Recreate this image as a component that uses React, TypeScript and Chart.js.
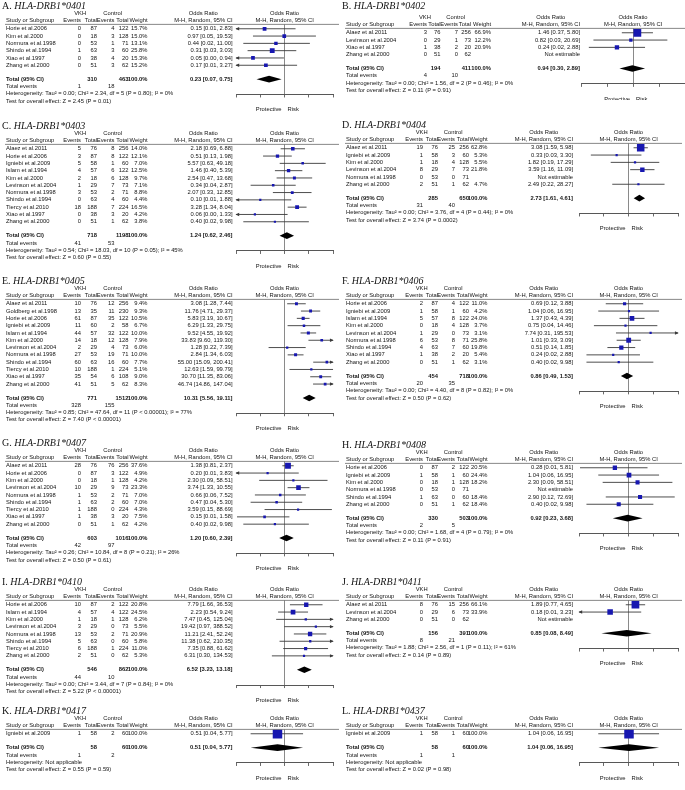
import React, { useEffect, useRef } from 'react';
import { Chart, registerables } from 'chart.js';

Chart.register(...registerables);

const SANS = '"Liberation Sans", Arial, Helvetica, sans-serif';
const SERIF = '"Liberation Serif", "Times New Roman", serif';

const TICK_VALUES = [0.01, 0.1, 1, 10, 100];
const TICK_LABELS = ['0.01', '0.1', '1', '10', '100'];

// ---------- A. HLA-DRB1*0401 ----------
const A_names = ['Horie et al.2006', 'Kim et al.2000', 'Normura et al.1998', 'Shindo et al.1994', 'Xiao et al.1997', 'Zhang et al.2000'];
const A_vkhEvents = [0, 0, 0, 1, 0, 0];
const A_vkhTotal = [87, 18, 53, 63, 38, 51];
const A_ctlEvents = [4, 3, 1, 3, 4, 3];
const A_ctlTotal = [122, 128, 71, 60, 20, 62];
const A_weight = [15.7, 15.0, 13.1, 25.8, 15.3, 15.2];
const A_or = [0.15, 0.97, 0.44, 0.31, 0.05, 0.17];
const A_lo = [0.006, 0.05, 0.02, 0.03, 0.002, 0.006];
const A_hi = [2.83, 19.53, 11.0, 3.03, 0.94, 3.27];
const A_totalN = [310, 463];
const A_totalOR = [0.23, 0.07, 0.75];
const A_events = [1, 18];
const A_stats = ['Heterogeneity: Tau² = 0.00; Chi² = 2.34, df = 5 (P = 0.80); I² = 0%', 'Test for overall effect: Z = 2.45 (P = 0.01)'];

// ---------- B. HLA-DRB1*0402 ----------
const B_names = ['Alaez et al.2011', 'Levinson et al.2004', 'Xiao et al.1997', 'Zhang et al.2000'];
const B_vkhEvents = [3, 0, 1, 0];
const B_vkhTotal = [76, 29, 38, 51];
const B_ctlEvents = [7, 1, 2, 0];
const B_ctlTotal = [256, 73, 20, 62];
const B_weight = [66.9, 12.2, 20.9, null];
const B_or = [1.46, 0.82, 0.24, null];
const B_lo = [0.37, 0.03, 0.02, null];
const B_hi = [5.8, 20.69, 2.88, null];
const B_totalN = [194, 411];
const B_totalOR = [0.94, 0.3, 2.89];
const B_events = [4, 10];
const B_stats = ['Heterogeneity: Tau² = 0.00; Chi² = 1.56, df = 2 (P = 0.46); I² = 0%', 'Test for overall effect: Z = 0.11 (P = 0.91)'];

// ---------- C. HLA-DRB1*0403 ----------
const C_names = ['Alaez et al.2011', 'Horie et al.2006', 'Igniebi et al.2009', 'Islam et al.1994', 'Kim et al.2000', 'Levinson et al.2004', 'Normura et al.1998', 'Shindo et al.1994', 'Tiercy et al.2010', 'Xiao et al.1997', 'Zhang et al.2000'];
const C_vkhEvents = [5, 3, 5, 4, 2, 1, 3, 0, 18, 0, 0];
const C_vkhTotal = [76, 87, 58, 57, 18, 29, 53, 63, 188, 38, 51];
const C_ctlEvents = [8, 8, 1, 6, 6, 7, 2, 4, 7, 3, 1];
const C_ctlTotal = [256, 122, 60, 122, 128, 73, 71, 60, 224, 20, 62];
const C_weight = [14.0, 12.1, 7.0, 12.5, 9.7, 7.1, 8.8, 4.4, 16.5, 4.2, 3.8];
const C_or = [2.18, 0.51, 5.57, 1.46, 2.54, 0.34, 2.07, 0.1, 3.28, 0.06, 0.4];
const C_lo = [0.69, 0.13, 0.63, 0.4, 0.47, 0.04, 0.33, 0.006, 1.34, 0.002, 0.02];
const C_hi = [6.88, 1.98, 49.18, 5.39, 13.68, 2.87, 12.85, 1.88, 8.04, 1.33, 9.98];
const C_totalN = [718, 1198];
const C_totalOR = [1.24, 0.62, 2.46];
const C_events = [41, 53];
const C_stats = ['Heterogeneity: Tau² = 0.54; Chi² = 18.03, df = 10 (P = 0.05); I² = 45%', 'Test for overall effect: Z = 0.60 (P = 0.55)'];

// ---------- D. HLA-DRB1*0404 ----------
const D_names = ['Alaez et al.2011', 'Igniebi et al.2009', 'Kim et al.2000', 'Levinson et al.2004', 'Normura et al.1998', 'Zhang et al.2000'];
const D_vkhEvents = [19, 1, 1, 8, 0, 2];
const D_vkhTotal = [76, 58, 18, 29, 53, 51];
const D_ctlEvents = [25, 3, 4, 7, 0, 1];
const D_ctlTotal = [256, 60, 128, 73, 71, 62];
const D_weight = [62.8, 5.3, 5.5, 21.8, null, 4.7];
const D_or = [3.08, 0.33, 1.82, 3.59, null, 2.49];
const D_lo = [1.59, 0.03, 0.19, 1.16, null, 0.22];
const D_hi = [5.98, 3.3, 17.29, 11.09, null, 28.27];
const D_totalN = [285, 650];
const D_totalOR = [2.73, 1.61, 4.61];
const D_events = [31, 40];
const D_stats = ['Heterogeneity: Tau² = 0.00; Chi² = 3.76, df = 4 (P = 0.44); I² = 0%', 'Test for overall effect: Z = 3.74 (P = 0.0002)'];

// ---------- E. HLA-DRB1*0405 ----------
const E_names = ['Alaez et al.2011', 'Goldberg et al.1998', 'Horie et al.2006', 'Igniebi et al.2009', 'Islam et al.1994', 'Kim et al.2000', 'Levinson et al.2004', 'Normura et al.1998', 'Shindo et al.1994', 'Tiercy et al.2010', 'Xiao et al.1997', 'Zhang et al.2000'];
const E_vkhEvents = [10, 13, 61, 11, 44, 14, 2, 27, 60, 10, 35, 41];
const E_vkhTotal = [76, 35, 87, 60, 57, 18, 29, 53, 63, 188, 54, 51];
const E_ctlEvents = [12, 11, 35, 2, 32, 12, 4, 19, 16, 1, 6, 5];
const E_ctlTotal = [256, 230, 122, 58, 122, 128, 73, 71, 60, 224, 108, 62];
const E_weight = [9.4, 9.3, 10.5, 6.7, 10.0, 7.9, 6.0, 10.0, 7.7, 5.1, 9.0, 8.3];
const E_or = [3.08, 11.76, 5.83, 6.29, 9.52, 33.83, 1.28, 2.84, 55.0, 12.63, 30.7, 46.74];
const E_lo = [1.28, 4.71, 3.19, 1.33, 4.55, 9.6, 0.22, 1.34, 15.09, 1.59, 11.35, 14.86];
const E_hi = [7.44, 29.37, 10.67, 29.75, 19.92, 119.3, 7.39, 6.03, 200.41, 99.79, 83.06, 147.04];
const E_totalN = [771, 1512];
const E_totalOR = [10.31, 5.56, 19.11];
const E_events = [328, 155];
const E_stats = ['Heterogeneity: Tau² = 0.85; Chi² = 47.64, df = 11 (P < 0.00001); I² = 77%', 'Test for overall effect: Z = 7.40 (P < 0.00001)'];

// ---------- F. HLA-DRB1*0406 ----------
const F_names = ['Horie et al.2006', 'Igniebi et al.2009', 'Islam et al.1994', 'Kim et al.2000', 'Levinson et al.2004', 'Normura et al.1998', 'Shindo et al.1994', 'Xiao et al.1997', 'Zhang et al.2000'];
const F_vkhEvents = [2, 1, 5, 0, 1, 6, 4, 1, 0];
const F_vkhTotal = [87, 58, 57, 18, 29, 53, 63, 38, 51];
const F_ctlEvents = [4, 1, 8, 4, 0, 8, 7, 2, 1];
const F_ctlTotal = [122, 60, 122, 128, 73, 71, 60, 20, 62];
const F_weight = [11.0, 4.2, 24.0, 3.7, 3.1, 25.8, 19.8, 5.4, 3.1];
const F_or = [0.69, 1.04, 1.37, 0.75, 7.74, 1.01, 0.51, 0.24, 0.4];
const F_lo = [0.12, 0.06, 0.43, 0.04, 0.31, 0.33, 0.14, 0.02, 0.02];
const F_hi = [3.88, 16.95, 4.39, 14.46, 195.53, 3.09, 1.85, 2.88, 9.98];
const F_totalN = [454, 718];
const F_totalOR = [0.86, 0.49, 1.53];
const F_events = [20, 35];
const F_stats = ['Heterogeneity: Tau² = 0.00; Chi² = 4.40, df = 8 (P = 0.82); I² = 0%', 'Test for overall effect: Z = 0.50 (P = 0.62)'];

// ---------- G. HLA-DRB1*0407 ----------
const G_names = ['Alaez et al.2011', 'Horie et al.2006', 'Kim et al.2000', 'Levinson et al.2004', 'Normura et al.1998', 'Shindo et al.1994', 'Tiercy et al.2010', 'Xiao et al.1997', 'Zhang et al.2000'];
const G_vkhEvents = [28, 0, 0, 10, 1, 1, 1, 1, 0];
const G_vkhTotal = [76, 87, 18, 29, 53, 63, 188, 38, 51];
const G_ctlEvents = [76, 3, 1, 9, 2, 2, 0, 3, 1];
const G_ctlTotal = [256, 122, 128, 73, 71, 60, 224, 20, 62];
const G_weight = [37.6, 4.9, 4.2, 23.3, 7.0, 7.0, 4.3, 7.5, 4.2];
const G_or = [1.38, 0.2, 2.3, 3.74, 0.66, 0.47, 3.59, 0.15, 0.4];
const G_lo = [0.81, 0.006, 0.09, 1.33, 0.06, 0.04, 0.15, 0.011, 0.02];
const G_hi = [2.37, 3.83, 58.51, 10.55, 7.52, 5.3, 88.69, 1.58, 9.98];
const G_totalN = [603, 1016];
const G_totalOR = [1.2, 0.6, 2.39];
const G_events = [42, 97];
const G_stats = ['Heterogeneity: Tau² = 0.26; Chi² = 10.84, df = 8 (P = 0.21); I² = 26%', 'Test for overall effect: Z = 0.50 (P = 0.61)'];

// ---------- H. HLA-DRB1*0408 ----------
const H_names = ['Horie et al.2006', 'Igniebi et al.2009', 'Kim et al.2000', 'Normura et al.1998', 'Shindo et al.1994', 'Zhang et al.2000'];
const H_vkhEvents = [0, 1, 0, 0, 1, 0];
const H_vkhTotal = [87, 58, 18, 53, 63, 51];
const H_ctlEvents = [2, 1, 1, 0, 0, 1];
const H_ctlTotal = [122, 60, 128, 71, 60, 62];
const H_weight = [20.5, 24.4, 18.2, null, 18.4, 18.4];
const H_or = [0.28, 1.04, 2.3, null, 2.9, 0.4];
const H_lo = [0.011, 0.06, 0.09, null, 0.12, 0.02];
const H_hi = [5.81, 16.95, 58.51, null, 72.69, 9.98];
const H_totalN = [330, 503];
const H_totalOR = [0.92, 0.23, 3.68];
const H_events = [2, 5];
const H_stats = ['Heterogeneity: Tau² = 0.00; Chi² = 1.68, df = 4 (P = 0.79); I² = 0%', 'Test for overall effect: Z = 0.11 (P = 0.91)'];

// ---------- I. HLA-DRB1*0410 ----------
const I_names = ['Horie et al.2006', 'Islam et al.1994', 'Kim et al.2000', 'Levinson et al.2004', 'Normura et al.1998', 'Shindo et al.1994', 'Tiercy et al.2010', 'Zhang et al.2000'];
const I_vkhEvents = [10, 4, 1, 3, 13, 5, 6, 2];
const I_vkhTotal = [87, 57, 18, 29, 53, 63, 188, 51];
const I_ctlEvents = [2, 4, 1, 0, 2, 0, 1, 0];
const I_ctlTotal = [122, 122, 128, 73, 71, 60, 224, 62];
const I_weight = [20.8, 24.5, 6.2, 5.5, 20.9, 5.8, 11.0, 5.3];
const I_or = [7.79, 2.23, 7.47, 19.42, 11.21, 11.38, 7.35, 6.31];
const I_lo = [1.66, 0.54, 0.45, 0.97, 2.41, 0.62, 0.88, 0.3];
const I_hi = [36.53, 9.24, 125.04, 388.52, 52.24, 210.35, 61.62, 134.53];
const I_totalN = [546, 862];
const I_totalOR = [6.52, 3.23, 13.18];
const I_events = [44, 10];
const I_stats = ['Heterogeneity: Tau² = 0.00; Chi² = 3.44, df = 7 (P = 0.84); I² = 0%', 'Test for overall effect: Z = 5.22 (P < 0.00001)'];

// ---------- J. HLA-DRB1*0411 ----------
const J_names = ['Alaez et al.2011', 'Levinson et al.2004', 'Zhang et al.2000'];
const J_vkhEvents = [8, 0, 0];
const J_vkhTotal = [76, 29, 51];
const J_ctlEvents = [15, 6, 0];
const J_ctlTotal = [256, 73, 62];
const J_weight = [66.1, 33.9, null];
const J_or = [1.89, 0.18, null];
const J_lo = [0.77, 0.006, null];
const J_hi = [4.65, 3.23, null];
const J_totalN = [156, 391];
const J_totalOR = [0.85, 0.08, 8.49];
const J_events = [8, 21];
const J_stats = ['Heterogeneity: Tau² = 1.88; Chi² = 2.56, df = 1 (P = 0.11); I² = 61%', 'Test for overall effect: Z = 0.14 (P = 0.89)'];

// ---------- K. HLA-DRB1*0417 ----------
const K_names = ['Igniebi et al.2009'];
const K_vkhEvents = [1];
const K_vkhTotal = [58];
const K_ctlEvents = [2];
const K_ctlTotal = [60];
const K_weight = [100.0];
const K_or = [0.51];
const K_lo = [0.04];
const K_hi = [5.77];
const K_totalN = [58, 60];
const K_totalOR = [0.51, 0.04, 5.77];
const K_events = [1, 2];
const K_stats = ['Heterogeneity: Not applicable', 'Test for overall effect: Z = 0.55 (P = 0.59)'];

// ---------- L. HLA-DRB1*0437 ----------
const L_names = ['Igniebi et al.2009'];
const L_vkhEvents = [1];
const L_vkhTotal = [58];
const L_ctlEvents = [1];
const L_ctlTotal = [60];
const L_weight = [100.0];
const L_or = [1.04];
const L_lo = [0.06];
const L_hi = [16.95];
const L_totalN = [58, 60];
const L_totalOR = [1.04, 0.06, 16.95];
const L_events = [1, 1];
const L_stats = ['Heterogeneity: Not applicable', 'Test for overall effect: Z = 0.02 (P = 0.98)'];

type PanelData = {
  letter: string; allele: string; names: string[];
  vkhEvents: number[]; vkhTotal: number[]; ctlEvents: number[]; ctlTotal: number[];
  weight: (number | null)[]; or: (number | null)[]; lo: (number | null)[]; hi: (number | null)[];
  totalN: number[]; totalOR: number[]; events: number[]; stats: string[];
};

const mk = (letter: string, allele: string, names: string[], vkhEvents: number[], vkhTotal: number[], ctlEvents: number[], ctlTotal: number[], weight: (number | null)[], or: (number | null)[], lo: (number | null)[], hi: (number | null)[], totalN: number[], totalOR: number[], events: number[], stats: string[]): PanelData =>
  ({ letter, allele, names, vkhEvents, vkhTotal, ctlEvents, ctlTotal, weight, or, lo, hi, totalN, totalOR, events, stats });

const DATA: PanelData[] = [
  mk('A', 'HLA-DRB1*0401', A_names, A_vkhEvents, A_vkhTotal, A_ctlEvents, A_ctlTotal, A_weight, A_or, A_lo, A_hi, A_totalN, A_totalOR, A_events, A_stats),
  mk('B', 'HLA-DRB1*0402', B_names, B_vkhEvents, B_vkhTotal, B_ctlEvents, B_ctlTotal, B_weight, B_or, B_lo, B_hi, B_totalN, B_totalOR, B_events, B_stats),
  mk('C', 'HLA-DRB1*0403', C_names, C_vkhEvents, C_vkhTotal, C_ctlEvents, C_ctlTotal, C_weight, C_or, C_lo, C_hi, C_totalN, C_totalOR, C_events, C_stats),
  mk('D', 'HLA-DRB1*0404', D_names, D_vkhEvents, D_vkhTotal, D_ctlEvents, D_ctlTotal, D_weight, D_or, D_lo, D_hi, D_totalN, D_totalOR, D_events, D_stats),
  mk('E', 'HLA-DRB1*0405', E_names, E_vkhEvents, E_vkhTotal, E_ctlEvents, E_ctlTotal, E_weight, E_or, E_lo, E_hi, E_totalN, E_totalOR, E_events, E_stats),
  mk('F', 'HLA-DRB1*0406', F_names, F_vkhEvents, F_vkhTotal, F_ctlEvents, F_ctlTotal, F_weight, F_or, F_lo, F_hi, F_totalN, F_totalOR, F_events, F_stats),
  mk('G', 'HLA-DRB1*0407', G_names, G_vkhEvents, G_vkhTotal, G_ctlEvents, G_ctlTotal, G_weight, G_or, G_lo, G_hi, G_totalN, G_totalOR, G_events, G_stats),
  mk('H', 'HLA-DRB1*0408', H_names, H_vkhEvents, H_vkhTotal, H_ctlEvents, H_ctlTotal, H_weight, H_or, H_lo, H_hi, H_totalN, H_totalOR, H_events, H_stats),
  mk('I', 'HLA-DRB1*0410', I_names, I_vkhEvents, I_vkhTotal, I_ctlEvents, I_ctlTotal, I_weight, I_or, I_lo, I_hi, I_totalN, I_totalOR, I_events, I_stats),
  mk('J', 'HLA-DRB1*0411', J_names, J_vkhEvents, J_vkhTotal, J_ctlEvents, J_ctlTotal, J_weight, J_or, J_lo, J_hi, J_totalN, J_totalOR, J_events, J_stats),
  mk('K', 'HLA-DRB1*0417', K_names, K_vkhEvents, K_vkhTotal, K_ctlEvents, K_ctlTotal, K_weight, K_or, K_lo, K_hi, K_totalN, K_totalOR, K_events, K_stats),
  mk('L', 'HLA-DRB1*0437', L_names, L_vkhEvents, L_vkhTotal, L_ctlEvents, L_ctlTotal, L_weight, L_or, L_lo, L_hi, L_totalN, L_totalOR, L_events, L_stats),
];

// ---------- layout (positions only) ----------
type Cols = { study: number; ev: number; tot: number; cev: number; ctot: number; w: number; or: number; plotL: number; plotR: number };
const LEFT_COLS: Cols = { study: 6, ev: 81, tot: 97, cev: 114.5, ctot: 128.5, w: 147.5, or: 232.5, plotL: 236, plotR: 336 };
const RIGHT_COLS: Cols = { study: 6, ev: 83, tot: 98, cev: 115, ctot: 129, w: 147.5, or: 233, plotL: 239, plotR: 339 };
const B_COLS: Cols = { study: 6, ev: 87, tot: 100.5, cev: 118, ctot: 131, w: 151, or: 240, plotL: 241, plotR: 351 };

// top: canvas top; head: canvas-relative y of "Study or Subgroup" header; tdy: canvas-relative title baseline
type Layout = { x0: number; top: number; head: number; tdy: number; width: number; cols: Cols; white?: boolean };
const LAYOUT: Record<string, Layout> = {
  A: { x0: 0, top: 0, head: 20, tdy: 9, width: 340, cols: LEFT_COLS },
  C: { x0: 0, top: 120, head: 20, tdy: 9, width: 340, cols: LEFT_COLS },
  E: { x0: 0, top: 275, head: 20, tdy: 9, width: 340, cols: LEFT_COLS },
  G: { x0: 0, top: 437, head: 20, tdy: 9, width: 340, cols: LEFT_COLS },
  I: { x0: 0, top: 576, head: 20, tdy: 9, width: 340, cols: LEFT_COLS },
  K: { x0: 0, top: 705, head: 20, tdy: 9, width: 340, cols: LEFT_COLS },
  B: { x0: 340, top: 0, head: 24, tdy: 9, width: 352, cols: B_COLS },
  D: { x0: 340, top: 100, head: 39, tdy: 28, width: 345, cols: RIGHT_COLS, white: true },
  F: { x0: 340, top: 275, head: 20, tdy: 9, width: 345, cols: RIGHT_COLS },
  H: { x0: 340, top: 439, head: 20, tdy: 9, width: 345, cols: RIGHT_COLS },
  J: { x0: 340, top: 576, head: 20, tdy: 9, width: 345, cols: RIGHT_COLS },
  L: { x0: 340, top: 705, head: 20, tdy: 9, width: 345, cols: RIGHT_COLS },
};
const PITCH = 7.3;
const FS = 5.8;
const TITLE_FS = 10;
const TEXT = '#141414';
const CI_COLOR = '#3a3a3a';
const SQ_COLOR = '#1717b0';

const f2 = (v: number) => v.toFixed(2);
const orText = (o: number, l: number, h: number) => `${f2(o)} [${f2(l)}, ${f2(h)}]`;

function geometry(d: PanelData, L: Layout) {
  const n = d.names.length;
  const rowY = (u: number) => L.head + (u + 1.2) * PITCH;
  const chartTop = rowY(-0.6);
  const chartBottom = rowY(n + 3.0);
  const height = Math.ceil(rowY(n + 5.1) + 5);
  return { n, chartTop, chartBottom, height };
}

function makePlugin(d: PanelData, L: Layout) {
  const c = L.cols;
  return {
    id: 'forest' + d.letter,
    beforeDraw(chart: any) {
      if (!L.white) return;
      const ctx = chart.ctx as CanvasRenderingContext2D;
      ctx.save();
      ctx.fillStyle = '#fff';
      ctx.fillRect(0, 0, chart.width, chart.height);
      ctx.restore();
    },
    afterDatasetsDraw(chart: any) {
      const ctx = chart.ctx as CanvasRenderingContext2D;
      const xs = chart.scales.x;
      const ys = chart.scales.y;
      const n = d.names.length;
      const p = ys.getPixelForValue(1) - ys.getPixelForValue(0);
      ctx.save();
      ctx.fillStyle = CI_COLOR;
      const arrow = (x: number, y: number, dir: number) => {
        ctx.beginPath();
        ctx.moveTo(x + dir * 0.5, y);
        ctx.lineTo(x - dir * 3.2, y - 1.7);
        ctx.lineTo(x - dir * 3.2, y + 1.7);
        ctx.closePath();
        ctx.fill();
      };
      d.or.forEach((o, i) => {
        if (o == null) return;
        const y = ys.getPixelForValue(i);
        if ((d.lo[i] as number) < 0.01) arrow(xs.getPixelForValue(0.01), y, -1);
        if ((d.hi[i] as number) > 100) arrow(xs.getPixelForValue(100), y, 1);
      });
      const [to, tl, th] = d.totalOR;
      const yT = ys.getPixelForValue(n + 0.9);
      const h = 0.45 * p;
      ctx.fillStyle = '#000';
      ctx.beginPath();
      ctx.moveTo(xs.getPixelForValue(Math.max(tl, 0.01)), yT);
      ctx.lineTo(xs.getPixelForValue(to), yT - h);
      ctx.lineTo(xs.getPixelForValue(Math.min(th, 100)), yT);
      ctx.lineTo(xs.getPixelForValue(to), yT + h);
      ctx.closePath();
      ctx.fill();
      ctx.restore();
    },
    afterDraw(chart: any) {
      const ctx = chart.ctx as CanvasRenderingContext2D;
      const xs = chart.scales.x;
      const ys = chart.scales.y;
      const n = d.names.length;
      const Y = (u: number) => ys.getPixelForValue(u);
      ctx.save();
      ctx.fillStyle = TEXT;
      const font = (bold = false) => `${bold ? 'bold ' : ''}${FS}px ${SANS}`;
      const t = (s: string, x: number, y: number, align: CanvasTextAlign = 'left', bold = false) => {
        ctx.font = font(bold);
        ctx.textAlign = align;
        ctx.fillText(s, x, y);
      };
      const measure = (s: string, bold = false) => { ctx.font = font(bold); return ctx.measureText(s).width; };

      // title
      ctx.textBaseline = 'alphabetic';
      ctx.textAlign = 'left';
      ctx.font = `${TITLE_FS}px ${SERIF}`;
      const pre = `${d.letter}. `;
      ctx.fillText(pre, 2, L.tdy);
      const pw = ctx.measureText(pre).width;
      ctx.font = `italic ${TITLE_FS}px ${SERIF}`;
      ctx.fillText(d.allele, 2 + pw, L.tdy);
      ctx.textBaseline = 'middle';

      const plotC = xs.getPixelForValue(1);
      const yH0 = Y(-2.15);
      const yH1 = Y(-1.2);
      const evW = measure('Events');
      const mhW = measure('M-H, Random, 95% CI');
      t('VKH', (c.ev - evW + c.tot) / 2, yH0, 'center');
      t('Control', (c.cev - evW + c.ctot) / 2, yH0, 'center');
      t('Odds Ratio', c.or - mhW / 2, yH0, 'center');
      t('Odds Ratio', plotC, yH0, 'center');
      t('Study or Subgroup', c.study, yH1);
      t('Events', c.ev, yH1, 'right');
      t('Total', c.tot, yH1, 'right');
      t('Events', c.cev, yH1, 'right');
      t('Total', c.ctot, yH1, 'right');
      t('Weight', c.w, yH1, 'right');
      t('M-H, Random, 95% CI', c.or, yH1, 'right');
      t('M-H, Random, 95% CI', plotC, yH1, 'center');
      ctx.strokeStyle = '#6a6a6a';
      ctx.lineWidth = 0.8;
      ctx.beginPath();
      ctx.moveTo(c.study - 1, Y(-0.6));
      ctx.lineTo(c.plotR + 3, Y(-0.6));
      ctx.stroke();

      d.names.forEach((name, i) => {
        const y = Y(i);
        t(name, c.study, y);
        t(String(d.vkhEvents[i]), c.ev, y, 'right');
        t(String(d.vkhTotal[i]), c.tot, y, 'right');
        t(String(d.ctlEvents[i]), c.cev, y, 'right');
        t(String(d.ctlTotal[i]), c.ctot, y, 'right');
        const w = d.weight[i];
        if (w != null) t(`${w.toFixed(1)}%`, c.w, y, 'right');
        const o = d.or[i];
        t(o == null ? 'Not estimable' : orText(o, d.lo[i] as number, d.hi[i] as number), c.or, y, 'right');
      });

      const yT = Y(n + 0.9);
      t('Total (95% CI)', c.study, yT, 'left', true);
      t(String(d.totalN[0]), c.tot, yT, 'right', true);
      t(String(d.totalN[1]), c.ctot, yT, 'right', true);
      t('100.0%', c.w, yT, 'right', true);
      t(orText(d.totalOR[0], d.totalOR[1], d.totalOR[2]), c.or, yT, 'right', true);
      const yE = Y(n + 1.9);
      t('Total events', c.study, yE);
      t(String(d.events[0]), c.ev, yE, 'right');
      t(String(d.events[1]), c.cev, yE, 'right');
      t(d.stats[0], c.study, Y(n + 2.9));
      t(d.stats[1], c.study, Y(n + 3.9));

      const yP = Y(n + 5.1);
      t('Protective', plotC - 3, yP, 'right');
      t('Risk', plotC + 3, yP, 'left');
      ctx.restore();
    },
  };
}

function buildConfig(d: PanelData, L: Layout): any {
  const g = geometry(d, L);
  const c = L.cols;
  const squares: any[] = [];
  const radii: number[] = [];
  const ci: any[] = [];
  d.or.forEach((o, i) => {
    if (o == null) return;
    squares.push({ x: o, y: i });
    const side = Math.max(2.2, 9.5 * Math.sqrt((d.weight[i] as number) / 100));
    radii.push(side / Math.SQRT2);
    ci.push({ x: Math.max(d.lo[i] as number, 0.01), y: i });
    ci.push({ x: Math.min(d.hi[i] as number, 100), y: i });
    ci.push({ x: null, y: null });
  });
  return {
    type: 'scatter',
    data: {
      datasets: [
        { label: 'Study OR', data: squares, pointStyle: 'rect', pointRadius: radii, pointHoverRadius: radii, backgroundColor: SQ_COLOR, borderColor: SQ_COLOR, borderWidth: 0 },
        { label: '95% CI', data: ci, showLine: true, spanGaps: false, borderColor: CI_COLOR, borderWidth: 0.9, pointRadius: 0, pointHoverRadius: 0, fill: false },
      ],
    },
    options: {
      animation: false,
      responsive: false,
      maintainAspectRatio: false,
      events: [],
      layout: { padding: { left: c.plotL, right: L.width - c.plotR, top: g.chartTop, bottom: g.height - g.chartBottom } },
      scales: {
        x: {
          type: 'logarithmic', min: 0.01, max: 100,
          afterBuildTicks: (s: any) => { s.ticks = TICK_VALUES.map((v) => ({ value: v })); },
          afterFit: (s: any) => { s.height = 0; },
          ticks: { callback: (_v: any, i: number) => TICK_LABELS[i], autoSkip: false, maxRotation: 0, padding: 2, color: TEXT, font: { size: FS, family: SANS } },
          grid: { drawOnChartArea: true, color: (ctx: any) => (ctx.tick && ctx.tick.value === 1 ? '#8a8a8a' : 'rgba(0,0,0,0)'), lineWidth: 1, tickLength: 3, tickColor: '#444', tickWidth: 0.8 },
          border: { display: true, color: '#444', width: 0.9 },
        },
        y: { type: 'linear', display: false, reverse: true, min: -0.6, max: g.n + 3.0 },
      },
      plugins: { legend: { display: false }, tooltip: { enabled: false }, title: { display: false } },
    },
    plugins: [makePlugin(d, L)],
  };
}

function Panel({ d }: { d: PanelData }) {
  const ref = useRef<HTMLCanvasElement>(null);
  const L = LAYOUT[d.letter];
  const g = geometry(d, L);
  useEffect(() => {
    if (!ref.current) return;
    const chart = new Chart(ref.current, buildConfig(d, L));
    return () => chart.destroy();
  }, [d]);
  return (
    <canvas
      ref={ref}
      width={L.width}
      height={g.height}
      style={{ position: 'absolute', left: L.x0, top: L.top, width: L.width, height: g.height }}
    />
  );
}

export default function App() {
  return (
    <div style={{ position: 'fixed', left: 0, top: 0, width: 685, height: 790, overflow: 'hidden', background: '#fff' }}>
      {DATA.map((d) => (
        <Panel key={d.letter} d={d} />
      ))}
    </div>
  );
}
